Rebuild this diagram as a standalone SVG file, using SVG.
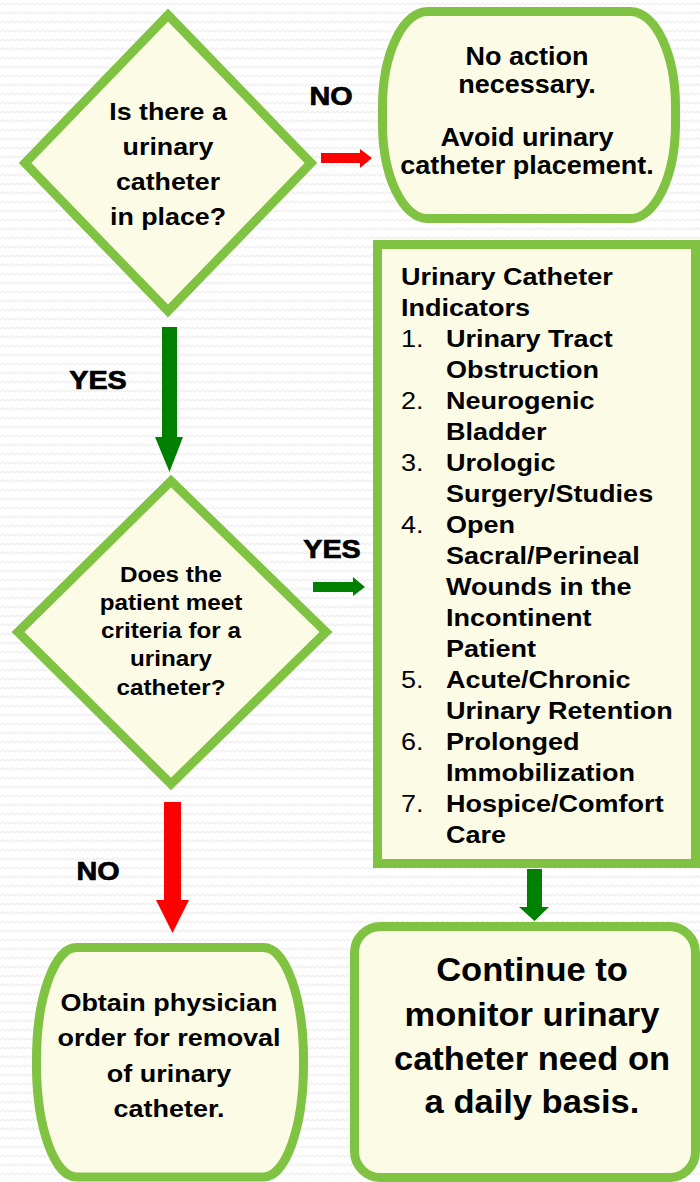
<svg xmlns="http://www.w3.org/2000/svg" width="700" height="1182" viewBox="0 0 700 1182">
<defs>
<pattern id="bg" width="10" height="9" patternUnits="userSpaceOnUse">
<path d="M0 5 L2.5 3 L5 5 L7.5 3 L10 5" fill="none" stroke="#eeeeee" stroke-width="1.2"/>
</pattern>
<style>
.shape{fill:#fcfce4;fill-opacity:0.94;stroke:#80c241;stroke-width:9}
.t{font-family:"Liberation Sans",Arial,sans-serif;font-weight:bold;fill:#000;text-anchor:middle}
.lbl{font-family:"Liberation Sans",Arial,sans-serif;font-weight:bold;fill:#000;stroke:#000;stroke-width:0.7;text-anchor:middle;font-size:25px}
.li{font-family:"Liberation Sans",Arial,sans-serif;font-weight:bold;fill:#000;font-size:23.3px}
.num{font-family:"Liberation Sans",Arial,sans-serif;font-weight:normal;fill:#000;font-size:23.3px}
.green{fill:#008000}
.red{fill:#ff0000}
</style>
</defs>
<rect width="700" height="1182" fill="#ffffff"/>
<rect width="700" height="1182" fill="url(#bg)"/>

<g id="connectors">
<polygon class="red" points="321,153 360,153 360,149 372,158 360,168 360,163 321,163"/>
<polygon class="green" points="162,327 177,327 177,437 183,437 169.5,472 155,437 162,437"/>
<polygon class="green" points="313,582 353,582 353,577 365,587 353,596 353,592 313,592"/>
<polygon class="red" points="164,802 181,802 181,900 189,900 172.5,933 156,900 164,900"/>
<polygon class="green" points="527,869 542,869 542,907 549,907 534.5,921 519,907 527,907"/>
</g>

<g id="labels">
<g transform="translate(331 0) scale(1.15 1)"><text class="lbl" x="0" y="105">NO</text></g>
<g transform="translate(98 0) scale(1.15 1)"><text class="lbl" x="0" y="389">YES</text></g>
<g transform="translate(332 0) scale(1.15 1)"><text class="lbl" x="0" y="558">YES</text></g>
<g transform="translate(98 0) scale(1.15 1)"><text class="lbl" x="0" y="880">NO</text></g>
</g>

<g id="q1">
<polygon class="shape" points="168,15 311,163 168,311 25,163"/>
<g transform="translate(168 0) scale(1.14 1)" class="t" font-size="23.5">
<text x="0" y="120">Is there a</text>
<text x="0" y="155">urinary</text>
<text x="0" y="190">catheter</text>
<text x="0" y="225">in place?</text>
</g>
</g>

<g id="no-action">
<rect class="shape" x="382.5" y="11.5" width="293" height="207" rx="45" ry="95"/>
<g transform="translate(527 0) scale(1.08 1)" class="t" font-size="25">
<text x="0" y="65">No action</text>
<text x="0" y="93">necessary.</text>
<text x="0" y="146">Avoid urinary</text>
<text x="0" y="174">catheter placement.</text>
</g>
</g>

<g id="indicators">
<rect class="shape" x="377.5" y="244.5" width="318" height="619"/>
<g transform="translate(401 0) scale(1.16 1)">
<text class="li" x="0" y="285">Urinary Catheter</text>
<text class="li" x="0" y="316">Indicators</text>
<text class="num" x="0" y="347">1.</text>
<text class="li" x="38.8" y="347">Urinary Tract</text>
<text class="li" x="38.8" y="378">Obstruction</text>
<text class="num" x="0" y="409">2.</text>
<text class="li" x="38.8" y="409">Neurogenic</text>
<text class="li" x="38.8" y="440">Bladder</text>
<text class="num" x="0" y="471">3.</text>
<text class="li" x="38.8" y="471">Urologic</text>
<text class="li" x="38.8" y="502">Surgery/Studies</text>
<text class="num" x="0" y="533">4.</text>
<text class="li" x="38.8" y="533">Open</text>
<text class="li" x="38.8" y="564">Sacral/Perineal</text>
<text class="li" x="38.8" y="595">Wounds in the</text>
<text class="li" x="38.8" y="626">Incontinent</text>
<text class="li" x="38.8" y="657">Patient</text>
<text class="num" x="0" y="688">5.</text>
<text class="li" x="38.8" y="688">Acute/Chronic</text>
<text class="li" x="38.8" y="719">Urinary Retention</text>
<text class="num" x="0" y="750">6.</text>
<text class="li" x="38.8" y="750">Prolonged</text>
<text class="li" x="38.8" y="781">Immobilization</text>
<text class="num" x="0" y="812">7.</text>
<text class="li" x="38.8" y="812">Hospice/Comfort</text>
<text class="li" x="38.8" y="843">Care</text>
</g>
</g>

<g id="q2">
<polygon class="shape" points="171,481 326,632 171,784 18,632"/>
<g transform="translate(171 0) scale(1.1 1)" class="t" font-size="22">
<text x="0" y="582">Does the</text>
<text x="0" y="610">patient meet</text>
<text x="0" y="638">criteria for a</text>
<text x="0" y="666">urinary</text>
<text x="0" y="695">catheter?</text>
</g>
</g>

<g id="removal">
<rect class="shape" x="36.5" y="947.5" width="267" height="229.5" rx="40" ry="112"/>
<g transform="translate(169 0) scale(1.1 1)" class="t" font-size="24.5">
<text x="0" y="1011">Obtain physician</text>
<text x="0" y="1046">order for removal</text>
<text x="0" y="1082">of urinary</text>
<text x="0" y="1117">catheter.</text>
</g>
</g>

<g id="monitor">
<rect class="shape" x="354.5" y="926.5" width="341" height="251" rx="26" ry="26"/>
<g transform="translate(532 0) scale(1.03 1)" class="t" font-size="33.5">
<text x="0" y="981">Continue to</text>
<text x="0" y="1026">monitor urinary</text>
<text x="0" y="1070">catheter need on</text>
<text x="0" y="1113">a daily basis.</text>
</g>
</g>
</svg>
